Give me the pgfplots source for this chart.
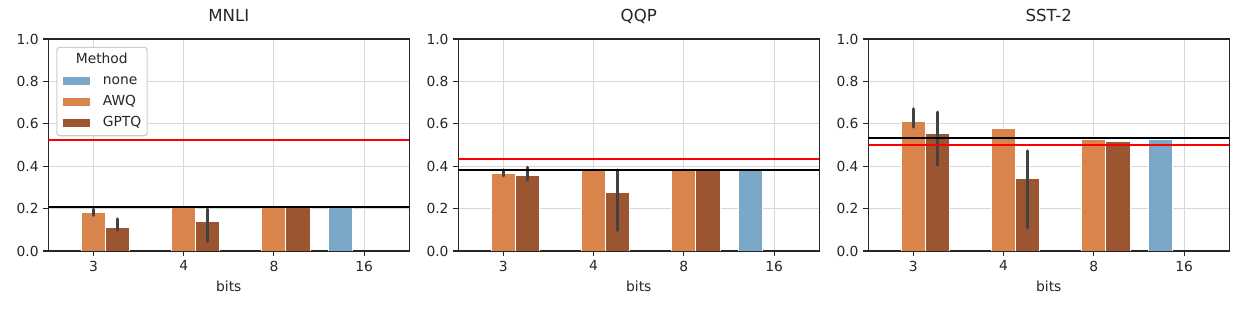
\documentclass[border=0pt]{standalone}
\usepackage{fontspec}
\setmainfont{DejaVu Sans}
\usepackage{pgfplots}
\pgfplotsset{compat=1.18}
\definecolor{cnone}{RGB}{123,167,200}
\definecolor{cawq}{RGB}{216,132,74}
\definecolor{cgptq}{RGB}{155,85,48}
\definecolor{cerr}{RGB}{66,66,66}
\definecolor{cgrid}{RGB}{216,216,216}
\definecolor{cax}{RGB}{38,38,38}
\definecolor{clegframe}{RGB}{204,204,204}

\pgfplotsset{
  layers/gridbelow/.define layer set={
    axis background,axis grid,main,axis ticks,axis lines,axis tick labels,axis descriptions,axis foreground
  }{},
  panel/.style={
    set layers=gridbelow,
    width=260.9pt, height=153.2pt, scale only axis,
    xmin=-0.5, xmax=3.5, ymin=0, ymax=1,
    xtick={0,1,2,3}, xticklabels={3,4,8,16},
    ytick={0,0.2,0.4,0.6,0.8,1.0},
    yticklabel style={/pgf/number format/.cd, fixed, fixed zerofill, precision=1},
    /pgf/number format/assume math mode=true,
    xmajorgrids, ymajorgrids,
    major grid style={cgrid, line width=0.8pt},
    axis line style={cax, line width=0.8pt},
    every tick/.style={cax, line width=0.8pt},
    major tick length=3.5pt,
    tick align=outside, tick pos=left,
    tick label style={font=\fontsize{10}{12}\selectfont, text=cax},
    title style={font=\fontsize{12}{14}\selectfont, text=cax, at={(0.5,1)}, anchor=base, yshift=6.5pt},
    xlabel={bits},
    xlabel style={font=\fontsize{10}{12}\selectfont, text=cax, at={(0.5,0)}, anchor=base, yshift=-29.6pt},
  },
  bar/.style={ybar, bar width=0.267, draw=white, line width=0.7pt},
  err/.style={cerr, line width=2.2pt, line cap=round, no markers, unbounded coords=jump, forget plot},
  hl/.style={line width=1.5pt, no markers, forget plot},
}

\begin{document}
\begin{tikzpicture}

% ---------------- MNLI ----------------
\begin{axis}[panel, at={(0pt,0pt)}, title={MNLI},
  legend style={at={(0,1)}, anchor=north west, xshift=5.8pt, yshift=-5.6pt,
    draw=clegframe, line width=0.8pt, rounded corners=2pt, fill=white,
    font=\fontsize{10}{12}\selectfont, text=cax,
    inner xsep=4.3pt, inner ysep=4.5pt, row sep=5.9pt, column sep=9.4pt,
    nodes={inner sep=0pt, text height=7.3pt, text depth=2pt}},
  legend cell align=left,
  legend image code/.code={\fill[#1, draw=none, sharp corners] (0pt,-2.9pt) rectangle (19.5pt,2.9pt);},
]
\addlegendimage{empty legend}
\addlegendentry{\hspace{-19.5pt}Method}
\addplot[bar, fill=cnone, bar shift=-0.267] coordinates {(3,0.209)};
\addlegendentry{none}
\addplot[bar, fill=cawq, bar shift=0] coordinates {(0,0.181) (1,0.209) (2,0.209)};
\addlegendentry{AWQ}
\addplot[bar, fill=cgptq, bar shift=0.267] coordinates {(0,0.113) (1,0.139) (2,0.209)};
\addlegendentry{GPTQ}
\addplot[err] coordinates {(0,0.168) (0,0.197) (0,nan) (0.267,0.099) (0.267,0.151) (0.267,nan) (1.267,0.046) (1.267,0.197)};
\addplot[hl, red] coordinates {(-0.5,0.524) (3.5,0.524)};
\addplot[hl, black] coordinates {(-0.5,0.209) (3.5,0.209)};
\end{axis}

% ---------------- QQP ----------------
\begin{axis}[panel, at={(296.3pt,0pt)}, title={QQP}]
\addplot[bar, fill=cnone, bar shift=-0.267] coordinates {(3,0.383)};
\addplot[bar, fill=cawq, bar shift=0] coordinates {(0,0.364) (1,0.383) (2,0.383)};
\addplot[bar, fill=cgptq, bar shift=0.267] coordinates {(0,0.356) (1,0.277) (2,0.383)};
\addplot[err] coordinates {(0,0.354) (0,0.383) (0,nan) (0.267,0.334) (0.267,0.395) (0.267,nan) (1.267,0.096) (1.267,0.383)};
\addplot[hl, red] coordinates {(-0.5,0.435) (3.5,0.435)};
\addplot[hl, black] coordinates {(-0.5,0.383) (3.5,0.383)};
\end{axis}

% ---------------- SST-2 ----------------
\begin{axis}[panel, at={(592.6pt,0pt)}, title={SST-2}]
\addplot[bar, fill=cnone, bar shift=-0.267] coordinates {(3,0.528)};
\addplot[bar, fill=cawq, bar shift=0] coordinates {(0,0.613) (1,0.580) (2,0.528)};
\addplot[bar, fill=cgptq, bar shift=0.267] coordinates {(0,0.556) (1,0.340) (2,0.515)};
\addplot[err] coordinates {(0,0.584) (0,0.671) (0,nan) (0.267,0.405) (0.267,0.655) (0.267,nan) (1.267,0.109) (1.267,0.472)};
\addplot[hl, black] coordinates {(-0.5,0.531) (3.5,0.531)};
\addplot[hl, red] coordinates {(-0.5,0.499) (3.5,0.499)};
\end{axis}

\path (-34.9pt,-44.1pt) rectangle (865.6pt,181.4pt);
\end{tikzpicture}
\end{document}
